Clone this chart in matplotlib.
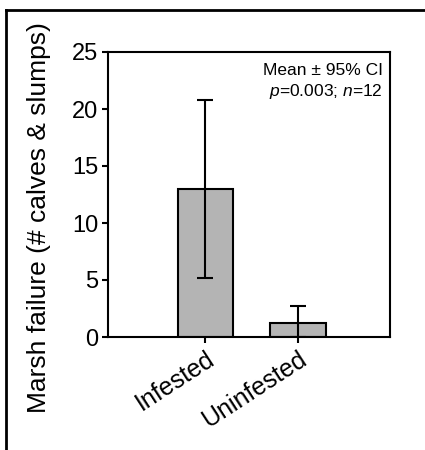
import matplotlib
matplotlib.use("Agg")
import matplotlib.pyplot as plt
from matplotlib.lines import Line2D
from matplotlib.transforms import ScaledTranslation

plt.rcParams['font.family'] = ['Liberation Sans', 'DejaVu Sans']
plt.rcParams['mathtext.fontset'] = 'custom'
plt.rcParams['mathtext.rm'] = 'Liberation Sans'
plt.rcParams['mathtext.it'] = 'Liberation Sans:italic'

# values
groups = ['Infested', 'Uninfested']
means = [13.0, 1.2]
ci_high = [20.8, 2.7]
ci_low = [5.2, 0.0]
y_ticks = [0, 5, 10, 15, 20, 25]

err_low = [m - lo for m, lo in zip(means, ci_low)]
err_high = [hi - m for m, hi in zip(means, ci_high)]

fig = plt.figure(figsize=(4.25, 4.5), dpi=100)
ax = fig.add_axes([108 / 425, 1 - 337 / 450, 282 / 425, 285 / 450])

x = list(range(len(groups)))
ax.bar(x, means, width=0.6, color='#b4b4b4', edgecolor='black', linewidth=1.5,
       zorder=2)
ax.errorbar(x, means, yerr=[err_low, err_high], fmt='none', ecolor='black',
            elinewidth=1.5, capsize=6, capthick=1.5, zorder=3)

ax.set_xlim(-1.05, 1.99)
ax.set_ylim(0, 25)
ax.set_yticks(y_ticks)
ax.set_xticks(x)
ax.set_xticklabels(groups, rotation=33, ha='right', va='top',
                   rotation_mode='anchor', fontsize=18)
# nudge the slanted labels a little left, like the original
shift = ScaledTranslation(-5 / 72, 0, fig.dpi_scale_trans)
for lbl in ax.get_xticklabels():
    lbl.set_transform(lbl.get_transform() + shift)
ax.tick_params(axis='y', labelsize=17)
ax.tick_params(axis='both', direction='out', length=4, width=1.5, pad=3)
for s in ax.spines.values():
    s.set_linewidth(1.5)

fig.text(39 / 425, 1 - 218 / 450, 'Marsh failure (# calves & slumps)',
         rotation=90, ha='center', va='center', fontsize=19)

ax.text(0.975, 0.96, 'Mean ± 95% CI', transform=ax.transAxes,
        ha='right', va='top', fontsize=12.5)
ax.text(0.975, 0.895, r'$p$=0.003; $n$=12', transform=ax.transAxes,
        ha='right', va='top', fontsize=12.5)

# outer frame (left and top edges only)
fig.add_artist(Line2D([6 / 425, 6 / 425], [0, 1 - 10 / 450],
                      transform=fig.transFigure, color='black', lw=2))
fig.add_artist(Line2D([6 / 425, 1], [1 - 10 / 450, 1 - 10 / 450],
                      transform=fig.transFigure, color='black', lw=2))

fig.savefig('out.png', dpi=100)
